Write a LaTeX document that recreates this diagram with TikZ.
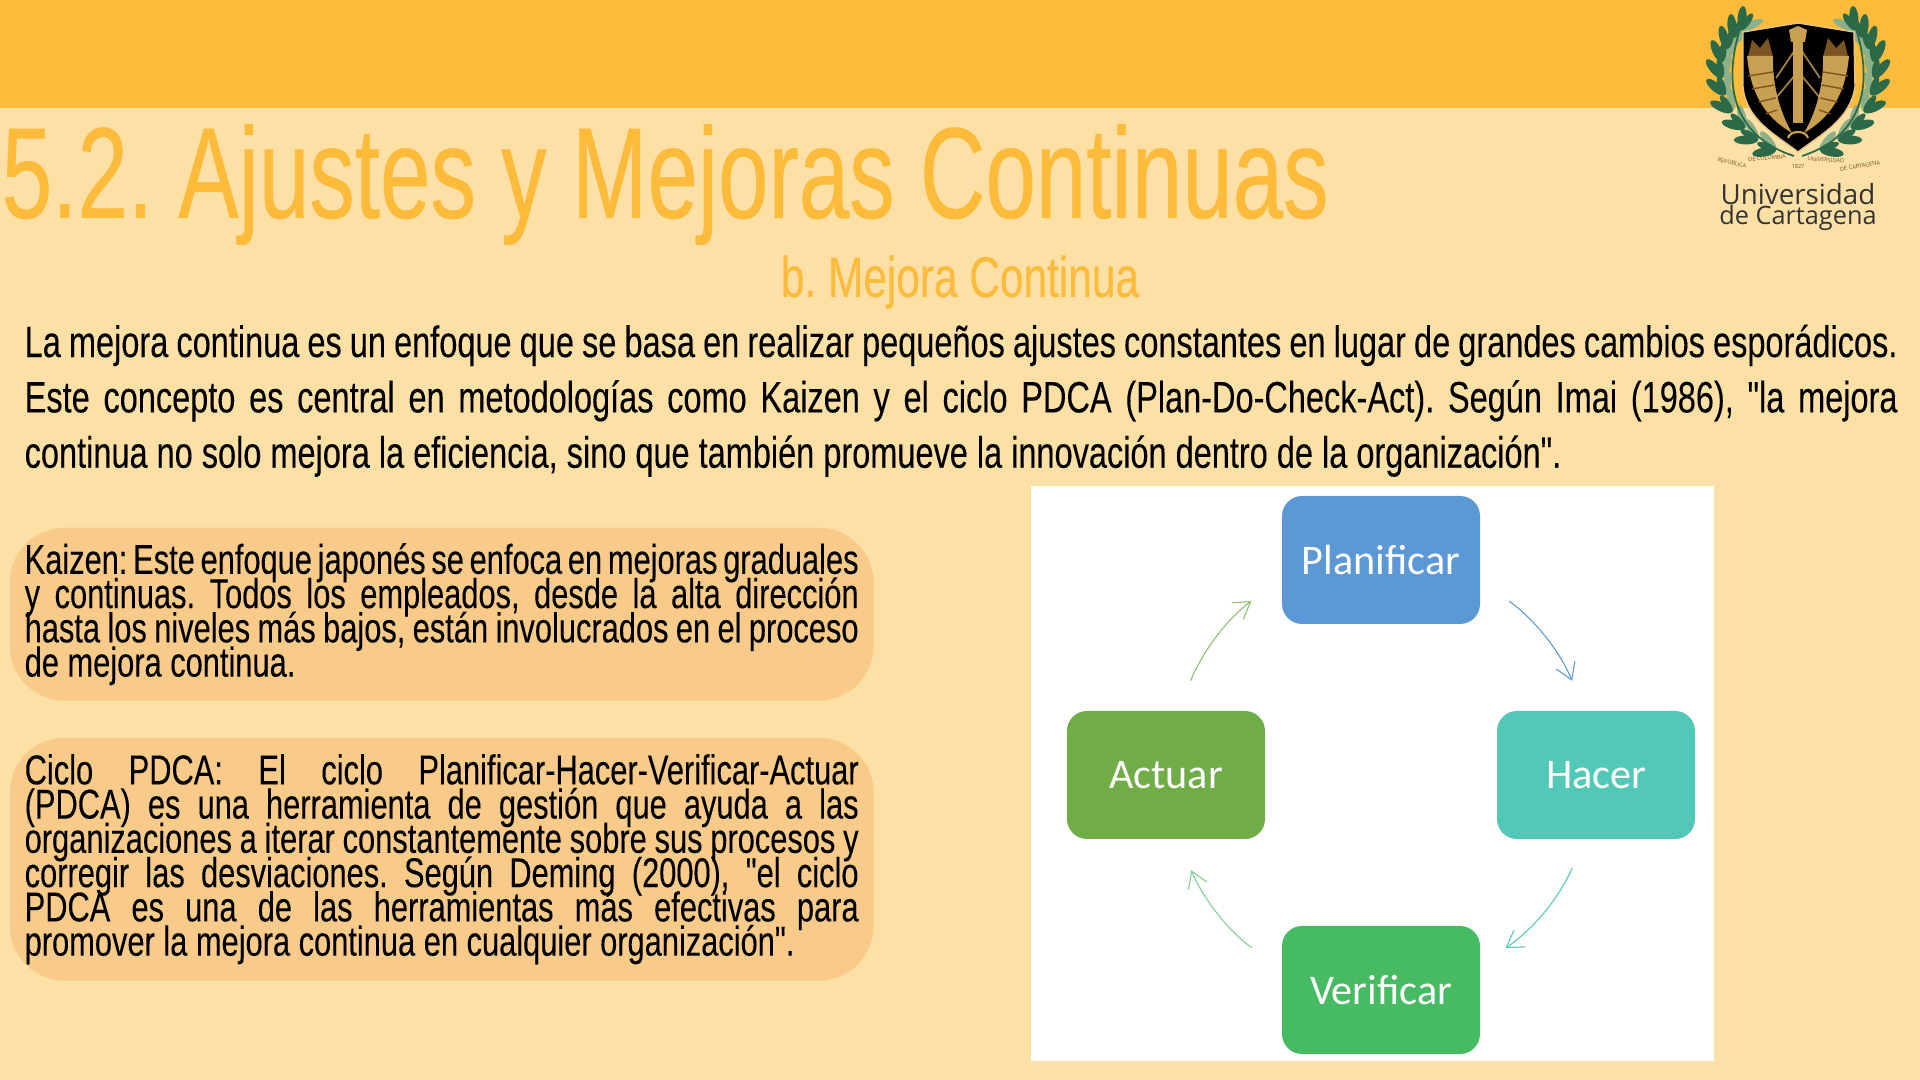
\documentclass[tikz,border=0pt]{standalone}
\usepackage{fontspec}
\usepackage{tikz}
\usetikzlibrary{calc,arrows.meta}
\newfontfamily\titleFont[FakeStretch=0.70,FakeBold=0.3]{Liberation Sans}
\newfontfamily\slideFont[FakeStretch=0.74,FakeBold=0.15]{Liberation Sans}
\newfontfamily\cycleFont{Carlito}
\newfontfamily\logoFont{Open Sans}
\newcommand{\tightLines}{\setlength{\lineskiplimit}{-20pt}\setlength{\baselineskip}{9.75pt}}
\newcommand{\closeLines}{\par\vspace*{-0.1cm}}
\frenchspacing
\definecolor{paleOrange}{RGB}{253, 224, 166}
\definecolor{deepOrange}{RGB}{253, 187, 59}
\definecolor{boxOrange}{RGB}{249, 203, 138}
\definecolor{cycBlue}{RGB}{91, 152, 213}
\definecolor{cycTeal}{RGB}{82, 201, 183}
\definecolor{cycGreen}{RGB}{71, 187, 99}
\definecolor{cycOlive}{RGB}{112, 173, 71}
\definecolor{leafDark}{RGB}{44, 105, 72}
\definecolor{leafPale}{RGB}{140, 176, 135}
\definecolor{hornGold}{RGB}{201, 160, 82}
\definecolor{hornDark}{RGB}{122, 84, 34}
\tikzset{
  cycbox/.style={minimum width=1.98cm,minimum height=1.28cm,rounded corners=0.2cm,
    inner sep=0,text=white,font=\cycleFont\fontsize{12}{12}\selectfont},
  cycarrow/.style={line width=0.3pt,-{Straight Barb[length=1.6mm,width=2mm]},bend left=16},
  notebox/.style={fill=boxOrange,rounded corners=0.55cm,inner xsep=0.15cm,inner ysep=0,
    text width=8.34cm,minimum width=8.64cm,align=justify,
    font=\slideFont\fontsize{11.85}{9.75}\selectfont},
  tinylabel/.style={inner sep=0,font=\logoFont\fontsize{1.6}{2}\selectfont,text=hornDark},
}
\begin{document}
\begin{tikzpicture}
    \useasboundingbox (0,0) rectangle (19.2,10.8);
    \fill[paleOrange] (0,0) rectangle (19.2,10.8);
    \fill[deepOrange] (0,9.72) rectangle (19.2,10.8);
    % headings
    \node[anchor=base west,inner sep=0,text=deepOrange,font=\titleFont\fontsize{36.9}{42}\selectfont]
      (title) at (0.01,8.62) {5.2. Ajustes y Mejoras Continuas};
    \node[anchor=base,inner sep=0,text=deepOrange,font=\slideFont\fontsize{16.3}{17}\selectfont]
      (subtitle) at (9.6,7.83) {b. Mejora Continua};
    \node[anchor=north west,inner sep=0,text width=18.73cm,align=justify,
      font=\slideFont\fontsize{12.5}{15.75}\selectfont] (intro) at (0.24,7.56)
      {La mejora continua es un enfoque que se basa en realizar pequeños ajustes constantes en lugar de grandes cambios esporádicos.\linebreak[4]
      Este concepto es central en metodologías como Kaizen y el ciclo PDCA (Plan-Do-Check-Act). Según Imai (1986), "la mejora\linebreak[4]
      continua no solo mejora la eficiencia, sino que también promueve la innovación dentro de la organización".};
    % side boxes
    \node[notebox,anchor=north west,minimum height=1.73cm] (kaizen) at (0.09,5.53)
      {\tightLines Kaizen: Este enfoque japonés se enfoca en mejoras graduales\linebreak[4]
      y continuas. Todos los empleados, desde la alta dirección\linebreak[4]
      hasta los niveles más bajos, están involucrados en el proceso\linebreak[4]
      de mejora continua.\closeLines};
    \node[notebox,anchor=north west,minimum height=2.43cm] (pdca) at (0.09,3.43)
      {\tightLines Ciclo PDCA: El ciclo Planificar-Hacer-Verificar-Actuar\linebreak[4]
      (PDCA) es una herramienta de gestión que ayuda a las\linebreak[4]
      organizaciones a iterar constantemente sobre sus procesos y\linebreak[4]
      corregir las desviaciones. Según Deming (2000), "el ciclo\linebreak[4]
      PDCA es una de las herramientas más efectivas para\linebreak[4]
      promover la mejora continua en cualquier organización".\closeLines};
    % cycle
    \fill[white] (10.31,0.19) rectangle (17.14,5.94);
    \node[cycbox,fill=cycBlue] (planificar) at (13.81,5.20) {Planificar};
    \node[cycbox,fill=cycTeal] (hacer) at (15.96,3.05) {Hacer};
    \node[cycbox,fill=cycGreen] (verificar) at (13.81,0.90) {Verificar};
    \node[cycbox,fill=cycOlive] (actuar) at (11.66,3.05) {Actuar};
    \draw[cycarrow,cycBlue,shorten <=0.35cm,shorten >=0.32cm] (planificar.-12) to (hacer.100);
    \draw[cycarrow,cycTeal,shorten <=0.31cm,shorten >=0.3cm] (hacer.-100) to (verificar.14);
    \draw[cycarrow,cycGreen!70!white,shorten <=0.36cm,shorten >=0.33cm] (verificar.168) to (actuar.-79);
    \draw[cycarrow,cycOlive!80!white,shorten <=0.32cm,shorten >=0.37cm] (actuar.79) to (planificar.191);
    % crest
    \foreach \side in {1,-1} {
      \begin{scope}[shift={(17.98,0)},xscale=\side]
        \foreach \x/\y/\a in {-0.22/9.30/160,-0.40/9.40/150,-0.53/9.52/135,-0.66/9.68/125,-0.73/9.85/110,
            -0.76/10.02/100,-0.76/10.18/85,-0.71/10.31/75,-0.65/10.42/65,-0.57/10.50/55} {
          \fill[leafPale,shift={(\x,\y)},rotate=\a-30] (0.12,0) ellipse (0.12 and 0.04);
          \fill[leafDark,shift={(\x,\y)},rotate=\a+30] (0.12,0) ellipse (0.12 and 0.045);
          \fill[leafDark,shift={(\x,\y)},rotate=\a] (0.1,0) ellipse (0.1 and 0.035);
        }
        \draw[leafDark,line width=0.5pt] (-0.04,9.24) .. controls (-0.6,9.42) and (-0.8,9.9) .. (-0.55,10.6);
      \end{scope}
    }
    \fill[black,draw=paleOrange!60!hornGold,line width=0.4pt] (17.43,10.48) -- (17.98,10.57) -- (18.54,10.48)
      -- (18.55,9.93) .. controls (18.5,9.6) and (18.2,9.45) .. (17.98,9.28)
      .. controls (17.76,9.45) and (17.46,9.6) .. (17.43,9.93) -- cycle;
    \foreach \side in {1,-1} {
      \begin{scope}[shift={(17.98,0)},xscale=\side]
        \draw[hornGold!80!black,line width=0.5pt] (-0.03,10.3) -- (-0.22,10.02);
        \draw[hornGold!80!black,line width=0.5pt] (-0.03,10.05) -- (-0.22,9.82);
        \fill[hornDark] (-0.5,10.23) -- (-0.46,10.4) -- (-0.38,10.32) -- (-0.3,10.42) -- (-0.25,10.23) -- cycle;
        \fill[hornGold] (-0.51,10.24) -- (-0.25,10.24) .. controls (-0.26,9.9) and (-0.15,9.62) .. (-0.06,9.47)
          .. controls (-0.28,9.6) and (-0.47,9.8) .. (-0.51,10.24) -- cycle;
        \foreach \y/\w in {10.08/0.25,9.95/0.22,9.82/0.17,9.7/0.11} {
          \draw[hornDark,line width=0.4pt] ({-0.25+0.1*(10.08-\y)},\y) -- ++({-\w},-0.04);
        }
      \end{scope}
    }
    \fill[hornGold] (17.93,9.57) rectangle (18.03,10.38);
    \fill[hornGold] (17.91,10.38) -- (18.05,10.38) -- (18.07,10.5) -- (17.98,10.54) -- (17.89,10.5) -- cycle;
    \draw[hornGold,line width=0.6pt] (17.88,9.42) .. controls (17.9,9.5) and (18.06,9.5) .. (18.08,9.42);
    \node[tinylabel,rotate=-12] (repLabel) at (17.32,9.17) {REPUBLICA};
    \node[tinylabel,rotate=4] (colLabel) at (17.67,9.22) {DE COLOMBIA};
    \node[tinylabel] (yearLabel) at (17.98,9.13) {1827};
    \node[tinylabel,rotate=-4] (uniLabel) at (18.26,9.2) {UNIVERSIDAD};
    \node[tinylabel,rotate=10] (carLabel) at (18.6,9.14) {DE CARTAGENA};
    \node[anchor=base,inner sep=0,font=\logoFont\fontsize{7.9}{8}\selectfont,text=black!80] (logoTop) at (17.98,8.75) {Universidad};
    \node[anchor=base,inner sep=0,font=\logoFont\fontsize{7.2}{8}\selectfont,text=black!80] (logoBottom) at (17.98,8.55) {de Cartagena};
\end{tikzpicture}
\end{document}
